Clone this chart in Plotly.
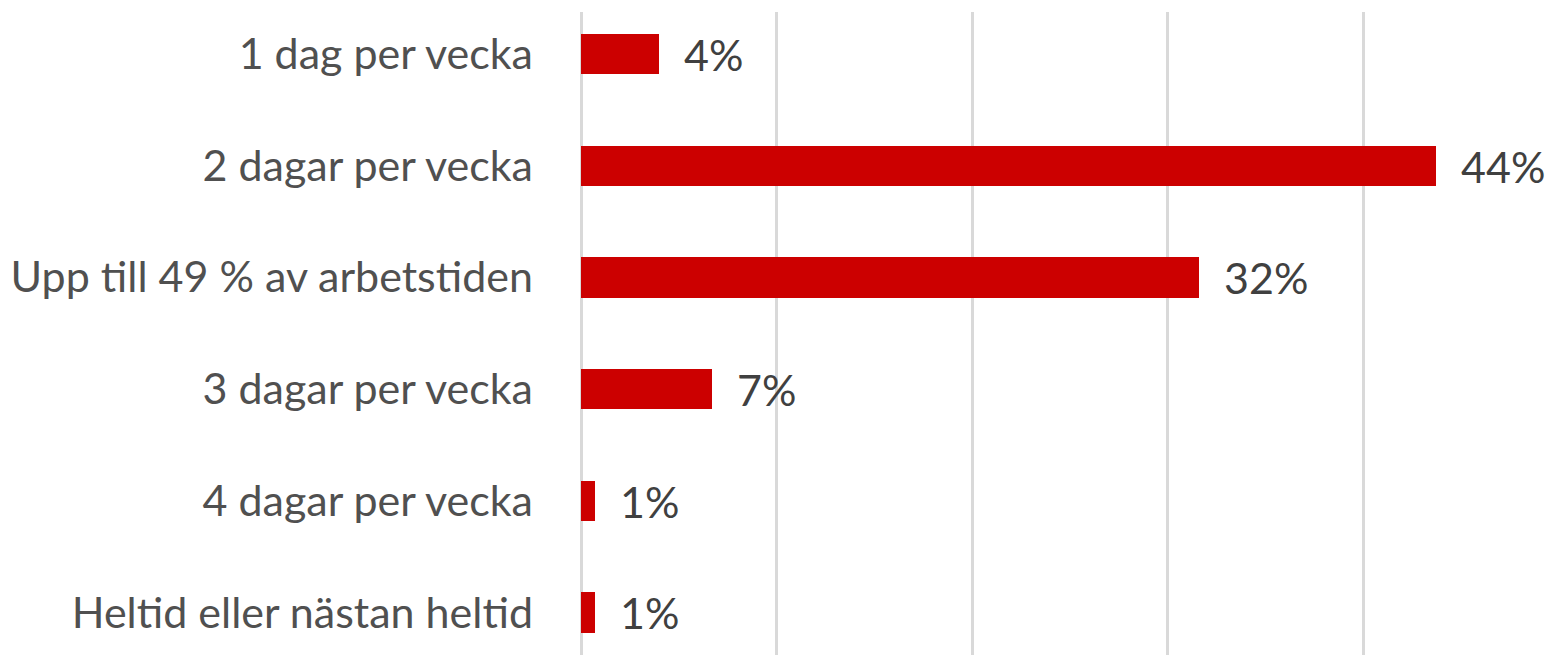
import plotly.graph_objects as go

categories = [
    "1 dag per vecka",
    "2 dagar per vecka",
    "Upp till 49 % av arbetstiden",
    "3 dagar per vecka",
    "4 dagar per vecka",
    "Heltid eller nästan heltid",
]
values = [4.0, 43.7, 31.6, 6.7, 0.7, 0.7]
value_labels = ["4%", "44%", "32%", "7%", "1%", "1%"]
x_ticks = [0, 10, 20, 30, 40]

FONT = "Lato"
TXT = "#404040"
PAD = "\u00a0\u00a0"

fig = go.Figure(
    go.Bar(
        x=values,
        y=categories,
        orientation="h",
        marker=dict(color="#CC0000", line=dict(width=0)),
        width=0.36,
        text=[PAD + t for t in value_labels],
        textposition="outside",
        constraintext="none",
        textfont=dict(family=FONT, size=43, color=TXT),
        cliponaxis=False,
        hoverinfo="skip",
    )
)

fig.update_layout(
    width=1545,
    height=667,
    margin=dict(l=581, r=0, t=12, b=12),
    paper_bgcolor="white",
    plot_bgcolor="white",
    showlegend=False,
    bargap=0,
)

fig.update_xaxes(
    range=[0, 49.3],
    tickvals=x_ticks,
    showticklabels=False,
    showgrid=True,
    gridcolor="#D9D9D9",
    gridwidth=2.5,
    zeroline=True,
    zerolinecolor="#D9D9D9",
    zerolinewidth=2.5,
    showline=False,
    fixedrange=True,
)

fig.update_yaxes(
    type="category",
    categoryorder="array",
    categoryarray=categories,
    range=[5.38, -0.376],
    showgrid=False,
    zeroline=False,
    showline=False,
    ticks="",
    ticklabelstandoff=47,
    tickfont=dict(family=FONT, size=43, color="#505050"),
    fixedrange=True,
)

fig.write_html(
    "out.html",
    config={"displayModeBar": False},
    post_script="document.body.style.margin='0';document.body.style.overflow='hidden';",
)
